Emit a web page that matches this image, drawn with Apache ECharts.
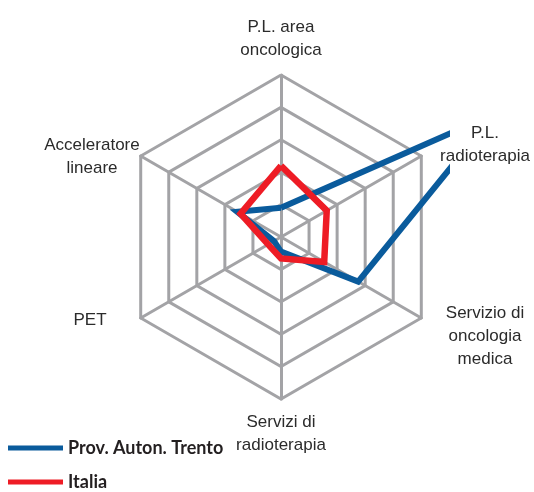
<!DOCTYPE html>
<html>
<head>
<meta charset="utf-8">
<script src="https://cdn.jsdelivr.net/npm/echarts@6/dist/echarts.min.js"></script>
<style>
html,body{margin:0;padding:0;background:#fff;}
#chart{width:534px;height:492px;}
</style>
</head>
<body>
<div id="chart"></div>
<script>
// Indicators, listed counterclockwise from the top (ECharts radar order)
var indicatorNames = [
  'P.L. area\noncologica',
  'Acceleratore\nlineare',
  'PET',
  'Servizi di\nradioterapia',
  'Servizio di\noncologia\nmedica',
  'P.L.\nradioterapia'
];
var seriesNames = ['Prov. Auton. Trento', 'Italia'];
var trentoValues = [0.9, 1.56, 0.25, 0.45, 2.75, 7.6];
var italiaValues = [2.2, 1.44, 0.46, 0.66, 1.54, 1.63];
var scaleMax = 5;

// label placement (centre of each text block)
var labelPos = [
  [281, 39], [92, 157], [90, 320], [281, 434], [485, 336], [485, 145]
];

var chart = echarts.init(document.getElementById('chart'), null, {renderer: 'canvas'});
var gray = '#a3a3a6';
var blue = '#0a5b9c';
var red = '#ee1c25';

var graphics = [{
  type: 'rect',
  z: 50,
  shape: {x: 450, y: 60, width: 84, height: 125},
  style: {fill: '#ffffff'}
}];
indicatorNames.forEach(function (n, i) {
  graphics.push({
    type: 'text',
    z: 60,
    x: labelPos[i][0],
    y: labelPos[i][1],
    style: {
      text: n,
      fill: '#2b2b2b',
      font: '17px "Liberation Sans", Arial, sans-serif',
      lineHeight: 23,
      align: 'center',
      verticalAlign: 'middle'
    }
  });
});

chart.setOption({
  animation: false,
  backgroundColor: '#ffffff',
  legend: {
    orient: 'vertical',
    left: 8,
    top: 438,
    width: 300,
    height: 120,
    padding: 0,
    itemWidth: 55,
    itemHeight: 5,
    itemGap: 14,
    icon: 'rect',
    data: seriesNames,
    textStyle: {
      fontFamily: 'Lato',
      fontWeight: 'bold',
      fontSize: 18,
      lineHeight: 20,
      color: '#231f20'
    }
  },
  radar: {
    center: [281, 237],
    radius: 162,
    startAngle: 90,
    splitNumber: 5,
    shape: 'polygon',
    indicator: indicatorNames.map(function (n) { return {name: n, min: 0, max: scaleMax}; }),
    axisName: {show: false},
    axisLine: {lineStyle: {color: gray, width: 3}},
    splitLine: {lineStyle: {color: gray, width: 3}},
    splitArea: {show: false}
  },
  graphic: graphics,
  series: [{
    type: 'radar',
    z: 2,
    symbol: 'none',
    data: [{
      name: seriesNames[0],
      value: trentoValues,
      lineStyle: {color: blue, width: 6, join: 'miter'},
      itemStyle: {color: blue}
    }]
  }, {
    type: 'radar',
    z: 3,
    symbol: 'none',
    data: [{
      name: seriesNames[1],
      value: italiaValues,
      lineStyle: {color: red, width: 6.5, join: 'miter'},
      itemStyle: {color: red}
    }]
  }]
});
</script>
</body>
</html>
